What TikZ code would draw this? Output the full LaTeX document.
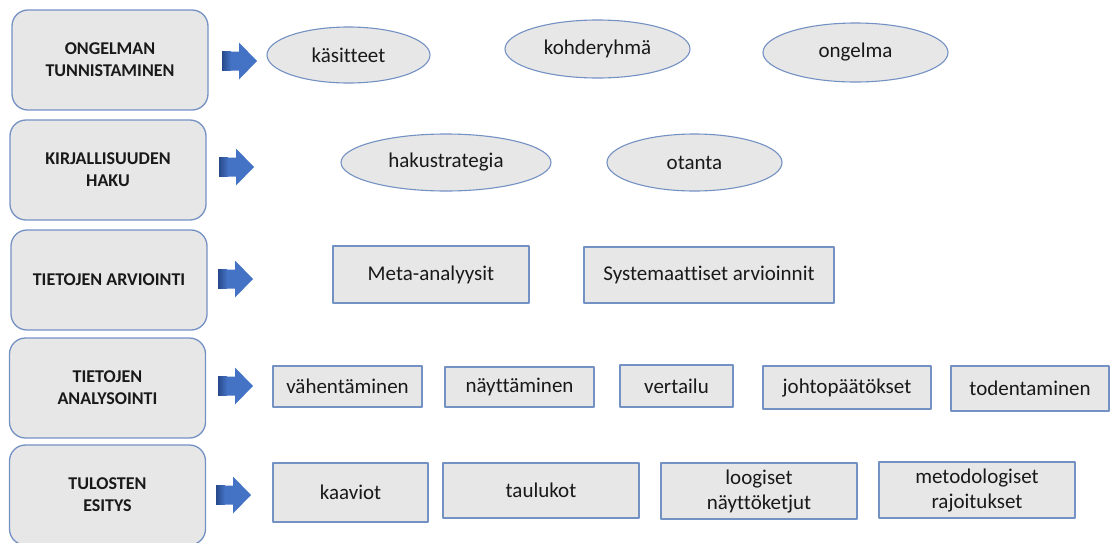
\documentclass[tikz,border=0pt]{standalone}
\usepackage{fontspec}
\setmainfont[Ligatures={NoCommon}]{Carlito}
\usetikzlibrary{shapes.geometric}
\definecolor{rim}{RGB}{116,145,196}
\definecolor{pale}{RGB}{231,231,231}
\definecolor{ink}{RGB}{25,25,25}
\definecolor{arrowblue}{RGB}{68,114,196}
\definecolor{arrowdark}{RGB}{40,74,140}
\begin{document}
\begin{tikzpicture}[x=1pt,y=-1pt, line join=round, text=ink,
	vaihe/.style={draw=rim, fill=pale, line width=1.3pt, rounded corners=16pt, minimum width=196pt, minimum height=100pt, inner sep=0pt, align=center, font=\fontsize{18}{22}\selectfont\bfseries},
	soikio/.style={ellipse, draw=rim, fill=pale, line width=1.1pt, inner sep=0pt, font=\fontsize{21}{25}\selectfont},
	laatikko/.style={rectangle, draw=rim, fill=pale, line width=1.1pt, inner sep=0pt, align=center, font=\fontsize{21}{25}\selectfont}]
	\useasboundingbox (0,0) rectangle (1110,542);
	% vaiheet
	\node[vaihe] (t1) at (110,60) {ONGELMAN\\TUNNISTAMINEN};
	\node[vaihe] (t2) at (108,170) {KIRJALLISUUDEN\\HAKU};
	\node[vaihe] (t3) at (109,280) {TIETOJEN ARVIOINTI};
	\node[vaihe] (t4) at (107.5,388) {TIETOJEN\\ANALYSOINTI};
	\node[vaihe] (t5) at (107.5,495) {TULOSTEN\\ESITYS};
	% nuolet
	\foreach \ax/\ay in {222/61,219/167,218/279,218/386,216/495}{
		\fill[arrowblue] (\ax,\ay-9.5) -- (\ax+17,\ay-9.5) -- (\ax+17,\ay-18.5) -- (\ax+35,\ay)
			-- (\ax+17,\ay+18.5) -- (\ax+17,\ay+9.5) -- (\ax,\ay+9.5) -- cycle;
		\shade[left color=arrowdark, right color=arrowblue] (\ax,\ay-9.5) rectangle (\ax+9,\ay+9.5);
	}
	% ongelman tunnistaminen
	\node[soikio, minimum width=163pt, minimum height=56pt] (k1) at (348.5,55) {käsitteet};
	\node[soikio, minimum width=185pt, minimum height=58pt] (k2) at (597.5,49) {kohderyhmä};
	\node[soikio, minimum width=185pt, minimum height=59pt] (k3) at (855.5,52.5) {ongelma};
	% kirjallisuuden haku
	\node[soikio, minimum width=210pt, minimum height=57pt] (h1) at (446,162.5) {hakustrategia};
	\node[soikio, minimum width=175pt, minimum height=57pt] (h2) at (694.5,162.5) {otanta};
	% tietojen arviointi
	\node[laatikko, minimum width=196pt, minimum height=57pt] (a1) at (431,274.5) {Meta-analyysit};
	\node[laatikko, minimum width=250pt, minimum height=56pt] (a2) at (709,275) {Systemaattiset arvioinnit};
	% tietojen analysointi
	\node[laatikko, minimum width=149pt, minimum height=41pt] (n1) at (347.5,386.5) {vähentäminen};
	\node[laatikko, minimum width=149pt, minimum height=40pt] (n2) at (519.5,387) {näyttäminen};
	\node[laatikko, minimum width=113pt, minimum height=42pt] (n3) at (676.5,386) {vertailu};
	\node[laatikko, minimum width=168pt, minimum height=43pt] (n4) at (847,387.5) {johtopäätökset};
	\node[laatikko, minimum width=158pt, minimum height=45pt] (n5) at (1030,388.5) {todentaminen};
	% tulosten esitys
	\node[laatikko, minimum width=155pt, minimum height=59pt] (e1) at (350.5,492.5) {kaaviot};
	\node[laatikko, minimum width=196pt, minimum height=55pt] (e2) at (541,490.5) {taulukot};
	\node[laatikko, minimum width=196pt, minimum height=56pt] (e3) at (759,491) {loogiset\\näyttöketjut};
	\node[laatikko, minimum width=196pt, minimum height=56pt] (e4) at (977,490) {metodologiset\\rajoitukset};
\end{tikzpicture}
\end{document}
